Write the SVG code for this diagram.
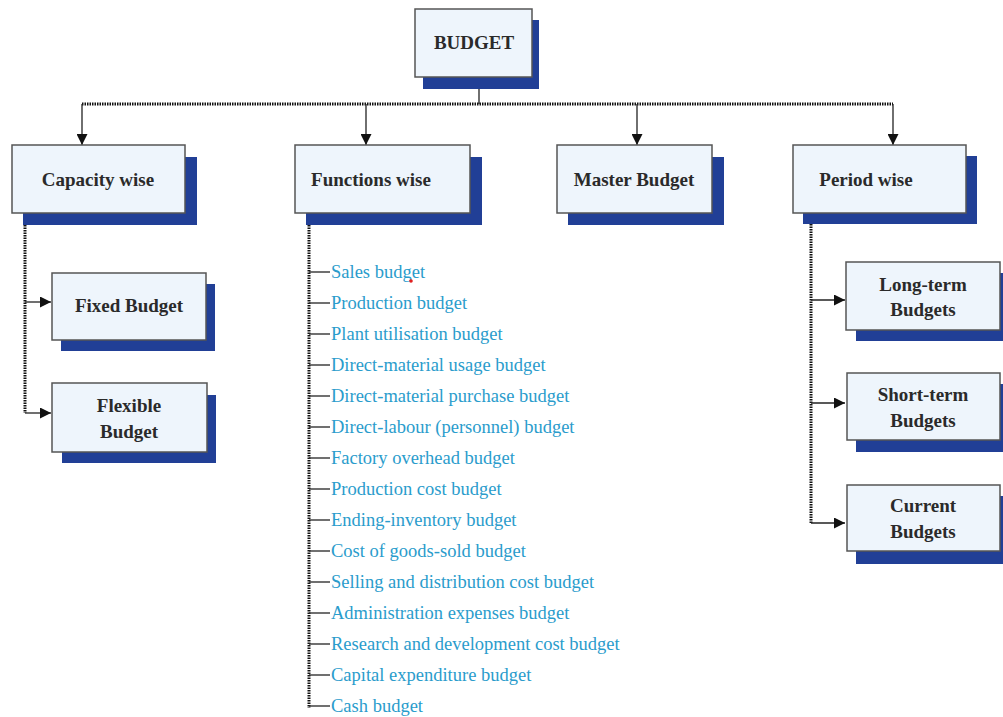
<svg xmlns="http://www.w3.org/2000/svg" width="1003" height="717" viewBox="0 0 1003 717">
  <style>
    .shadow { fill: #213f96; }
    .box { fill: #eef5fc; stroke: #555; stroke-width: 1.5; }
    .label { font-family: "Liberation Serif", serif; font-size: 19px; font-weight: bold; fill: #2a2a2a; text-anchor: middle; }
    .item { font-family: "Liberation Serif", serif; font-size: 18.5px; fill: #2a9ccc; }
    .dots { fill: none; stroke: #111; stroke-width: 3; stroke-dasharray: 1.5 1; }
    .line { fill: none; stroke: #222; stroke-width: 1.3; }
  </style>
  <defs>
    <marker id="arrow" viewBox="0 0 10 10" refX="10" refY="5" markerWidth="11" markerHeight="11" markerUnits="userSpaceOnUse" orient="auto">
      <path d="M0,0 L10,5 L0,10 z" fill="#111"/>
    </marker>
  </defs>
  <rect width="1003" height="717" fill="#fff"/>

  <!-- connectors -->
  <g id="connectors">
    <line class="line" x1="479" y1="89" x2="479" y2="104" stroke="#777"/>
    <line class="dots" x1="82" y1="104" x2="893" y2="104"/>
    <line class="line" x1="82" y1="104" x2="82" y2="145" marker-end="url(#arrow)"/>
    <line class="line" x1="366" y1="104" x2="366" y2="145" marker-end="url(#arrow)"/>
    <line class="line" x1="637" y1="104" x2="637" y2="145" marker-end="url(#arrow)"/>
    <line class="line" x1="893" y1="104" x2="893" y2="145" marker-end="url(#arrow)"/>

    <!-- capacity wise branch -->
    <line class="dots" x1="25" y1="225" x2="25" y2="413"/>
    <line class="line" x1="25" y1="302" x2="51" y2="302" marker-end="url(#arrow)"/>
    <line class="line" x1="25" y1="413" x2="51" y2="413" marker-end="url(#arrow)"/>

    <!-- functions wise list -->
    <line class="dots" x1="309" y1="225" x2="309" y2="708"/>
    <g class="line">
      <line x1="309" y1="272" x2="330" y2="272"/>
      <line x1="309" y1="303" x2="330" y2="303"/>
      <line x1="309" y1="334" x2="330" y2="334"/>
      <line x1="309" y1="365" x2="330" y2="365"/>
      <line x1="309" y1="396" x2="330" y2="396"/>
      <line x1="309" y1="427" x2="330" y2="427"/>
      <line x1="309" y1="458" x2="330" y2="458"/>
      <line x1="309" y1="489" x2="330" y2="489"/>
      <line x1="309" y1="520" x2="330" y2="520"/>
      <line x1="309" y1="551" x2="330" y2="551"/>
      <line x1="309" y1="582" x2="330" y2="582"/>
      <line x1="309" y1="613" x2="330" y2="613"/>
      <line x1="309" y1="644" x2="330" y2="644"/>
      <line x1="309" y1="675" x2="330" y2="675"/>
      <line x1="309" y1="706" x2="330" y2="706"/>
    </g>

    <!-- period wise branch -->
    <line class="dots" x1="811" y1="224" x2="811" y2="524"/>
    <line class="line" x1="811" y1="300" x2="845" y2="300" marker-end="url(#arrow)"/>
    <line class="line" x1="811" y1="403" x2="845" y2="403" marker-end="url(#arrow)"/>
    <line class="line" x1="811" y1="523" x2="845" y2="523" marker-end="url(#arrow)"/>
  </g>

  <g id="budget">
    <rect class="shadow" x="423" y="20" width="116" height="69"/>
    <rect class="box" x="415" y="9" width="117" height="68"/>
    <text class="label" x="474" y="49">BUDGET</text>
  </g>

  <g id="capacity-wise">
    <rect class="shadow" x="23" y="157" width="174" height="68"/>
    <rect class="box" x="12" y="145" width="173" height="68"/>
    <text class="label" x="98" y="186">Capacity wise</text>
  </g>

  <g id="functions-wise">
    <rect class="shadow" x="306" y="157" width="176" height="68"/>
    <rect class="box" x="295" y="145" width="175" height="68"/>
    <text class="label" x="371" y="186">Functions wise</text>
  </g>

  <g id="master-budget">
    <rect class="shadow" x="568" y="157" width="156" height="68"/>
    <rect class="box" x="557" y="145" width="155" height="68"/>
    <text class="label" x="634" y="186">Master Budget</text>
  </g>

  <g id="period-wise">
    <rect class="shadow" x="803" y="156" width="174" height="68"/>
    <rect class="box" x="793" y="145" width="173" height="68"/>
    <text class="label" x="866" y="186">Period wise</text>
  </g>

  <g id="fixed-budget">
    <rect class="shadow" x="61" y="284" width="154" height="67"/>
    <rect class="box" x="52" y="273" width="154" height="67"/>
    <text class="label" x="129" y="312">Fixed Budget</text>
  </g>

  <g id="flexible-budget">
    <rect class="shadow" x="62" y="395" width="154" height="68"/>
    <rect class="box" x="52" y="383" width="155" height="69"/>
    <text class="label" x="129" y="412">Flexible</text>
    <text class="label" x="129" y="438">Budget</text>
  </g>

  <g id="functions-list">
    <text class="item" x="331" y="278">Sales budget</text>
    <text class="item" x="331" y="309">Production budget</text>
    <text class="item" x="331" y="340">Plant utilisation budget</text>
    <text class="item" x="331" y="371">Direct-material usage budget</text>
    <text class="item" x="331" y="402">Direct-material purchase budget</text>
    <text class="item" x="331" y="433">Direct-labour (personnel) budget</text>
    <text class="item" x="331" y="464">Factory overhead budget</text>
    <text class="item" x="331" y="495">Production cost budget</text>
    <text class="item" x="331" y="526">Ending-inventory budget</text>
    <text class="item" x="331" y="557">Cost of goods-sold budget</text>
    <text class="item" x="331" y="588">Selling and distribution cost budget</text>
    <text class="item" x="331" y="619">Administration expenses budget</text>
    <text class="item" x="331" y="650">Research and development cost budget</text>
    <text class="item" x="331" y="681">Capital expenditure budget</text>
    <text class="item" x="331" y="712">Cash budget</text>
    <circle cx="411" cy="281" r="1.8" fill="#e02020"/>
  </g>

  <g id="long-term">
    <rect class="shadow" x="856" y="273" width="147" height="68"/>
    <rect class="box" x="846" y="262" width="154" height="68"/>
    <text class="label" x="923" y="291">Long-term</text>
    <text class="label" x="923" y="316">Budgets</text>
  </g>

  <g id="short-term">
    <rect class="shadow" x="856" y="384" width="147" height="68"/>
    <rect class="box" x="847" y="373" width="153" height="67"/>
    <text class="label" x="923" y="401">Short-term</text>
    <text class="label" x="923" y="427">Budgets</text>
  </g>

  <g id="current">
    <rect class="shadow" x="856" y="496" width="147" height="68"/>
    <rect class="box" x="847" y="485" width="153" height="66"/>
    <text class="label" x="923" y="512">Current</text>
    <text class="label" x="923" y="538">Budgets</text>
  </g>
</svg>
